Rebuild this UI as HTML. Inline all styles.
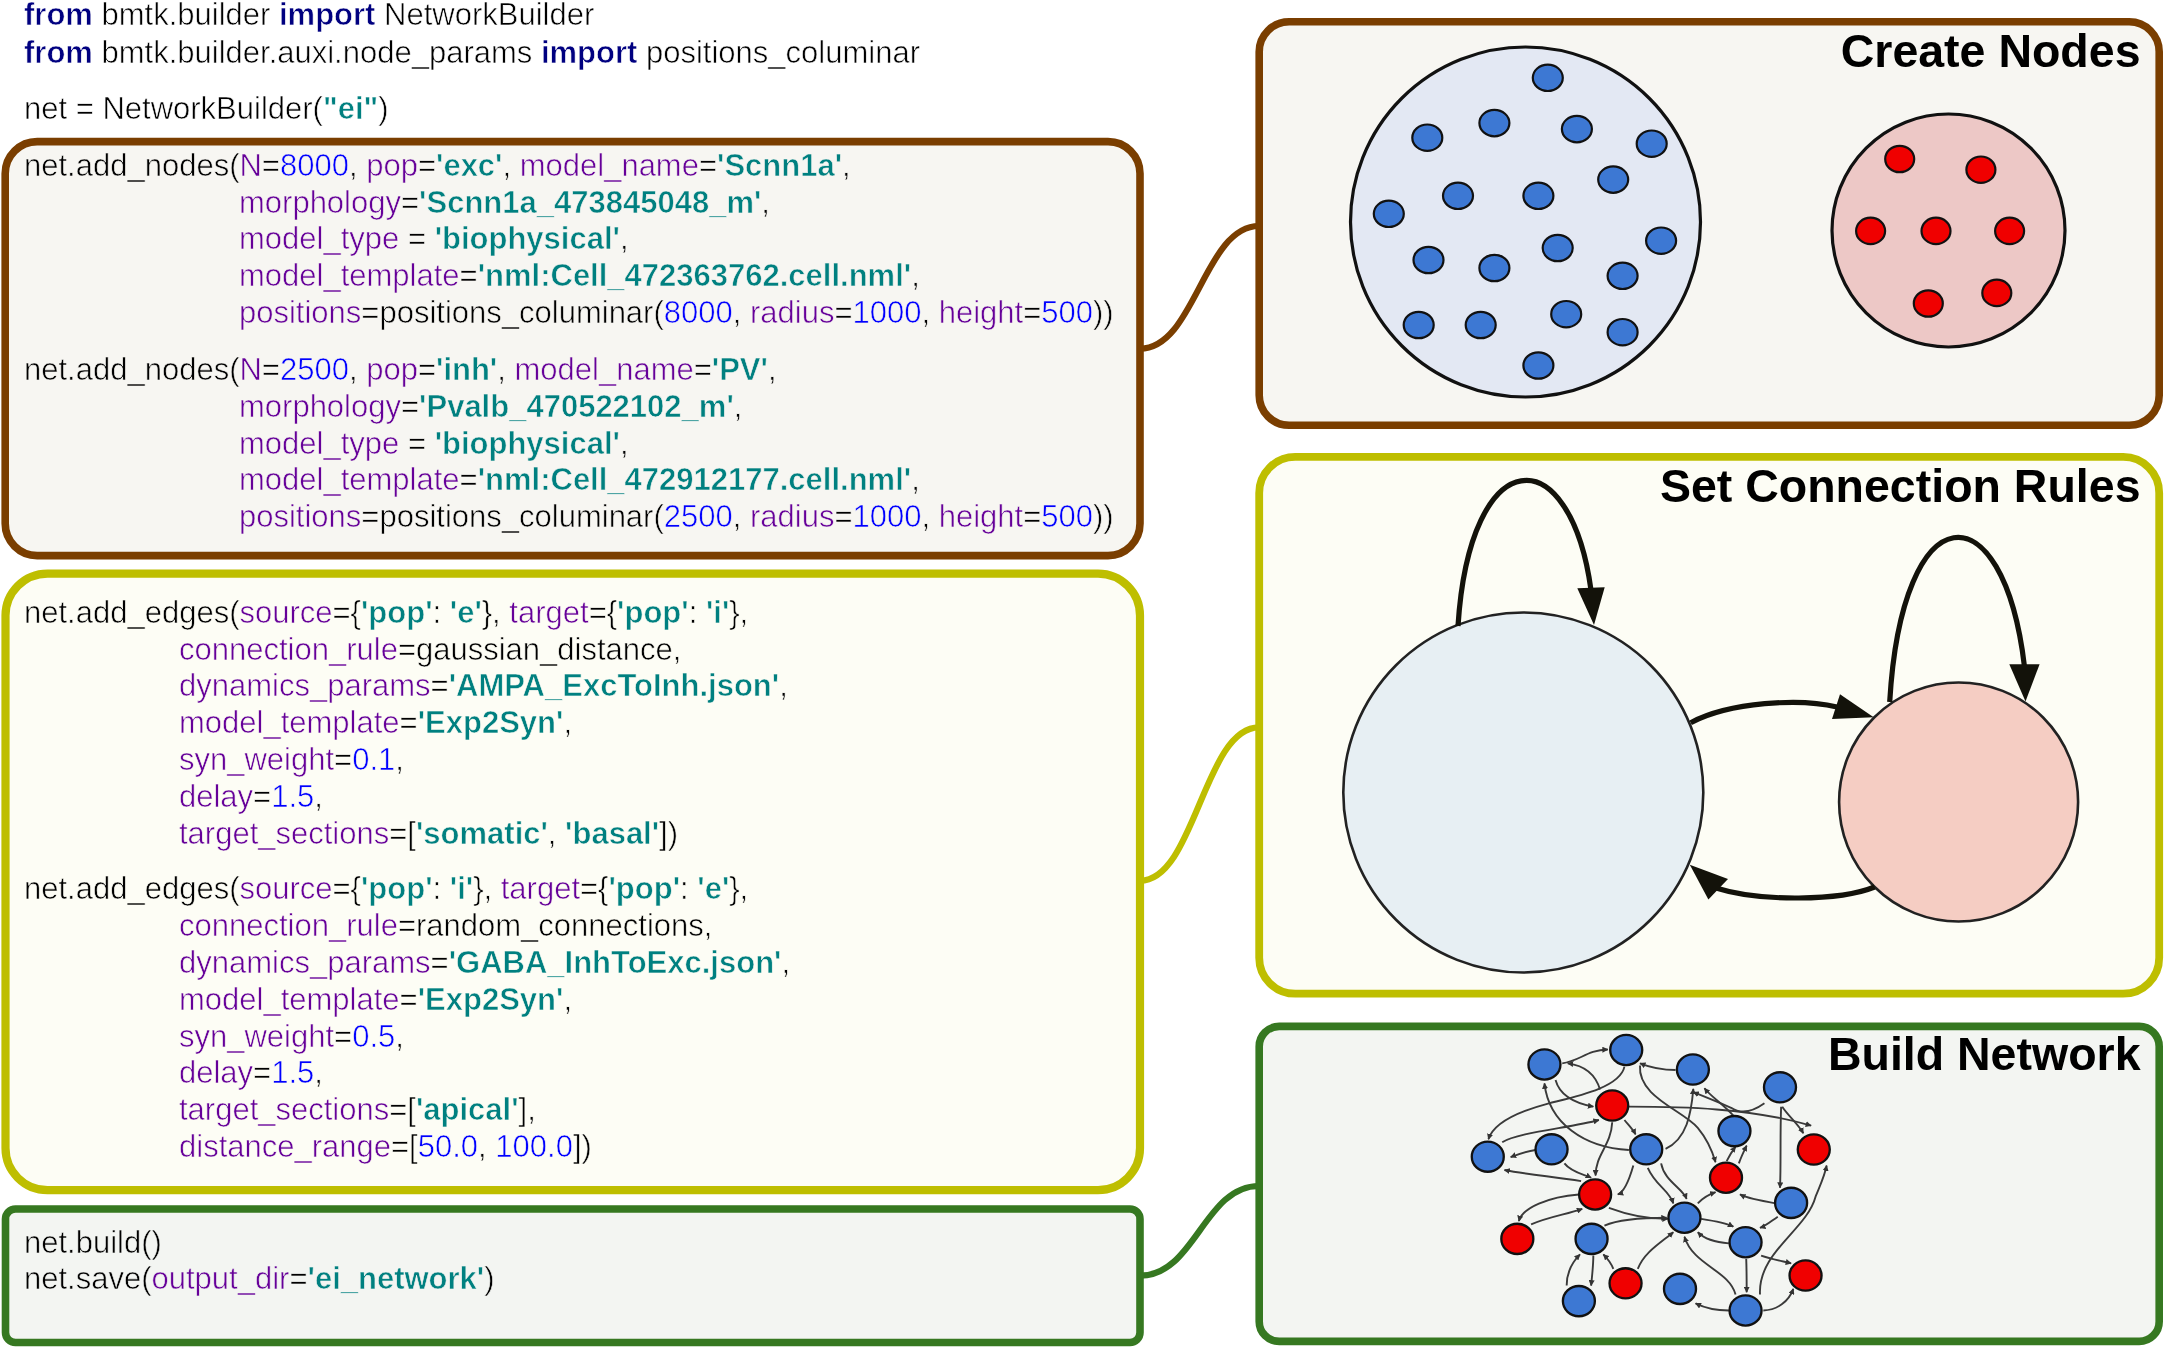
<!DOCTYPE html>
<html><head><meta charset="utf-8">
<style>
body{-webkit-font-smoothing:antialiased}
html,body{margin:0;padding:0;background:#fff;width:2166px;height:1350px;overflow:hidden}
svg{position:absolute;left:0;top:0}
.l{position:absolute;font-family:"Liberation Sans",sans-serif;font-size:31px;line-height:34.627px;white-space:pre;color:#000}
.k{color:#000080;font-weight:bold}
.a{color:#660099}
.n{color:#0000ff}
.s{color:#008080;font-weight:bold}
.t{position:absolute;font-family:"Liberation Sans",sans-serif;font-weight:bold;line-height:1.117;white-space:pre;color:#000}
</style></head><body>
<svg width="2166" height="1350" viewBox="0 0 2166 1350">
<defs><marker id="ah" viewBox="0 0 10 10" refX="9" refY="5" markerWidth="3.2" markerHeight="3.2" orient="auto" markerUnits="strokeWidth"><path d="M0,0 L10,5 L0,10 z" fill="#333"/></marker></defs>
<rect x="5.2" y="141.6" width="1134.8" height="414" rx="32" fill="#f7f6f2" stroke="#7a3e00" stroke-width="7.6"/>
<rect x="5.5" y="573.6" width="1134.5" height="616.5" rx="42" fill="#fdfdf5" stroke="#bebe00" stroke-width="8.2"/>
<rect x="5.5" y="1209" width="1134.5" height="133.5" rx="10" fill="#f3f5f2" stroke="#367821" stroke-width="7.6"/>
<rect x="1259.2" y="21.8" width="900" height="403.5" rx="30" fill="#f7f6f2" stroke="#7a3e00" stroke-width="7.6"/>
<rect x="1259.2" y="456.9" width="900" height="536.8" rx="36" fill="#fdfdf5" stroke="#bebe00" stroke-width="7.8"/>
<rect x="1259.2" y="1026.4" width="900" height="315" rx="20" fill="#f3f5f2" stroke="#367821" stroke-width="7.6"/>
<path d="M1140,348.7 C1195,348.7 1204,226 1259,226" fill="none" stroke="#7a3e00" stroke-width="6.2"/>
<path d="M1140,880.7 C1195,880.7 1204,727.4 1259,727.4" fill="none" stroke="#bebe00" stroke-width="6.2"/>
<path d="M1140,1275.7 C1195,1275.7 1204,1186 1259,1186" fill="none" stroke="#367821" stroke-width="6.2"/>
<circle cx="1525.5" cy="222" r="175" fill="#e3e8f3" stroke="#111" stroke-width="3.2"/>
<circle cx="1948.5" cy="230.5" r="116.5" fill="#edc8c6" stroke="#111" stroke-width="3.2"/>
<ellipse cx="1547.8" cy="77.8" rx="15" ry="13.2" fill="#3d78d3" stroke="#111" stroke-width="2.2"/>
<ellipse cx="1427.3" cy="137.7" rx="15" ry="13.2" fill="#3d78d3" stroke="#111" stroke-width="2.2"/>
<ellipse cx="1494.4" cy="123.1" rx="15" ry="13.2" fill="#3d78d3" stroke="#111" stroke-width="2.2"/>
<ellipse cx="1576.9" cy="129.1" rx="15" ry="13.2" fill="#3d78d3" stroke="#111" stroke-width="2.2"/>
<ellipse cx="1651.7" cy="143.7" rx="15" ry="13.2" fill="#3d78d3" stroke="#111" stroke-width="2.2"/>
<ellipse cx="1388.8" cy="213.8" rx="15" ry="13.2" fill="#3d78d3" stroke="#111" stroke-width="2.2"/>
<ellipse cx="1458" cy="195.8" rx="15" ry="13.2" fill="#3d78d3" stroke="#111" stroke-width="2.2"/>
<ellipse cx="1538.4" cy="195.8" rx="15" ry="13.2" fill="#3d78d3" stroke="#111" stroke-width="2.2"/>
<ellipse cx="1613.2" cy="179.6" rx="15" ry="13.2" fill="#3d78d3" stroke="#111" stroke-width="2.2"/>
<ellipse cx="1661.1" cy="240.7" rx="15" ry="13.2" fill="#3d78d3" stroke="#111" stroke-width="2.2"/>
<ellipse cx="1428.5" cy="260" rx="15" ry="13.2" fill="#3d78d3" stroke="#111" stroke-width="2.2"/>
<ellipse cx="1494.4" cy="268" rx="15" ry="13.2" fill="#3d78d3" stroke="#111" stroke-width="2.2"/>
<ellipse cx="1557.7" cy="248" rx="15" ry="13.2" fill="#3d78d3" stroke="#111" stroke-width="2.2"/>
<ellipse cx="1622.6" cy="275.8" rx="15" ry="13.2" fill="#3d78d3" stroke="#111" stroke-width="2.2"/>
<ellipse cx="1418.7" cy="325" rx="15" ry="13.2" fill="#3d78d3" stroke="#111" stroke-width="2.2"/>
<ellipse cx="1480.7" cy="325" rx="15" ry="13.2" fill="#3d78d3" stroke="#111" stroke-width="2.2"/>
<ellipse cx="1566.2" cy="314.2" rx="15" ry="13.2" fill="#3d78d3" stroke="#111" stroke-width="2.2"/>
<ellipse cx="1622.6" cy="332.2" rx="15" ry="13.2" fill="#3d78d3" stroke="#111" stroke-width="2.2"/>
<ellipse cx="1538.4" cy="365.5" rx="15" ry="13.2" fill="#3d78d3" stroke="#111" stroke-width="2.2"/>
<ellipse cx="1899.7" cy="159" rx="14.5" ry="13.2" fill="#f00000" stroke="#111" stroke-width="2.2"/>
<ellipse cx="1980.9" cy="169.7" rx="14.5" ry="13.2" fill="#f00000" stroke="#111" stroke-width="2.2"/>
<ellipse cx="1870.6" cy="230.9" rx="14.5" ry="13.2" fill="#f00000" stroke="#111" stroke-width="2.2"/>
<ellipse cx="1936" cy="230.9" rx="14.5" ry="13.2" fill="#f00000" stroke="#111" stroke-width="2.2"/>
<ellipse cx="2009.6" cy="230.9" rx="14.5" ry="13.2" fill="#f00000" stroke="#111" stroke-width="2.2"/>
<ellipse cx="1928.3" cy="303.5" rx="14.5" ry="13.2" fill="#f00000" stroke="#111" stroke-width="2.2"/>
<ellipse cx="1996.8" cy="292.9" rx="14.5" ry="13.2" fill="#f00000" stroke="#111" stroke-width="2.2"/>
<circle cx="1523.3" cy="792.5" r="180" fill="#e7eff3" stroke="#222" stroke-width="2.6"/>
<circle cx="1958.6" cy="802" r="119.5" fill="#f5cdc3" stroke="#222" stroke-width="2.6"/>
<path d="M1458,626 C1470,440 1570,437 1591,590" fill="none" stroke="#13120a" stroke-width="5.2"/>
<polygon points="1594,625 1577.3,588.2 1604.7,587.3" fill="#13120a"/>
<path d="M1889.7,702 C1902,491 2003,487 2024.4,666" fill="none" stroke="#13120a" stroke-width="5.2"/>
<polygon points="2025.5,701.5 2009.3,664.3 2039.6,664.3" fill="#13120a"/>
<path d="M1690.7,722.7 C1730,702 1800,698 1837,707" fill="none" stroke="#13120a" stroke-width="5.2"/>
<polygon points="1873.7,717.3 1840,694.2 1832,719.1" fill="#13120a"/>
<path d="M1874.6,887 C1840,901 1760,902 1716,888" fill="none" stroke="#13120a" stroke-width="5.2"/>
<polygon points="1689.8,864.8 1728,879 1708.4,899.5" fill="#13120a"/>
<g transform="translate(1460,1030) scale(0.22222)">
<path d="M460,150 C540,140 570,90 665,88" fill="none" stroke="#3a3a3a" stroke-width="8.5" marker-end="url(#ah)"/>
<path d="M630,268 C610,200 560,160 485,150" fill="none" stroke="#3a3a3a" stroke-width="8.5" marker-end="url(#ah)"/>
<path d="M430,225 C450,300 520,330 600,345" fill="none" stroke="#3a3a3a" stroke-width="8.5" marker-end="url(#ah)"/>
<path d="M740,165 C720,260 520,300 400,330 C250,370 150,420 128,492" fill="none" stroke="#3a3a3a" stroke-width="8.5" marker-end="url(#ah)"/>
<path d="M190,505 C260,460 500,440 625,405" fill="none" stroke="#3a3a3a" stroke-width="8.5" marker-end="url(#ah)"/>
<path d="M760,540 C560,530 400,420 380,240" fill="none" stroke="#3a3a3a" stroke-width="8.5" marker-end="url(#ah)"/>
<path d="M340,540 C300,545 260,560 228,572" fill="none" stroke="#3a3a3a" stroke-width="8.5" marker-end="url(#ah)"/>
<path d="M545,680 C420,660 300,650 200,630" fill="none" stroke="#3a3a3a" stroke-width="8.5" marker-end="url(#ah)"/>
<path d="M470,600 C500,640 560,650 590,665" fill="none" stroke="#3a3a3a" stroke-width="8.5" marker-end="url(#ah)"/>
<path d="M685,415 C680,520 610,560 610,655" fill="none" stroke="#3a3a3a" stroke-width="8.5" marker-end="url(#ah)"/>
<path d="M740,405 C760,430 780,450 790,470" fill="none" stroke="#3a3a3a" stroke-width="8.5" marker-end="url(#ah)"/>
<path d="M780,610 C760,680 740,730 710,740" fill="none" stroke="#3a3a3a" stroke-width="8.5" marker-end="url(#ah)"/>
<path d="M845,620 C880,700 940,720 960,780" fill="none" stroke="#3a3a3a" stroke-width="8.5" marker-end="url(#ah)"/>
<path d="M905,600 C920,680 1000,710 1020,760" fill="none" stroke="#3a3a3a" stroke-width="8.5" marker-end="url(#ah)"/>
<path d="M925,535 C1020,490 1040,380 1050,265" fill="none" stroke="#3a3a3a" stroke-width="8.5" marker-end="url(#ah)"/>
<path d="M810,160 C800,300 1000,360 1070,440 C1120,500 1140,560 1150,595" fill="none" stroke="#3a3a3a" stroke-width="8.5" marker-end="url(#ah)"/>
<path d="M970,180 C900,180 860,170 810,150" fill="none" stroke="#3a3a3a" stroke-width="8.5" marker-end="url(#ah)"/>
<path d="M760,345 C1000,345 1300,350 1580,430" fill="none" stroke="#3a3a3a" stroke-width="8.5" marker-end="url(#ah)"/>
<path d="M1230,385 C1180,330 1130,300 1100,262" fill="none" stroke="#3a3a3a" stroke-width="8.5" marker-end="url(#ah)"/>
<path d="M1370,330 C1300,380 1250,370 1220,350 C1150,320 1100,300 1050,280" fill="none" stroke="#3a3a3a" stroke-width="8.5" marker-end="url(#ah)"/>
<path d="M1450,345 C1480,390 1520,420 1545,465" fill="none" stroke="#3a3a3a" stroke-width="8.5" marker-end="url(#ah)"/>
<path d="M1445,345 C1440,480 1445,600 1440,710" fill="none" stroke="#3a3a3a" stroke-width="8.5" marker-end="url(#ah)"/>
<path d="M1200,590 C1210,570 1225,545 1240,525" fill="none" stroke="#3a3a3a" stroke-width="8.5" marker-end="url(#ah)"/>
<path d="M1255,600 C1265,570 1280,540 1290,520" fill="none" stroke="#3a3a3a" stroke-width="8.5" marker-end="url(#ah)"/>
<path d="M1070,780 C1090,760 1120,740 1150,730" fill="none" stroke="#3a3a3a" stroke-width="8.5" marker-end="url(#ah)"/>
<path d="M1420,780 C1360,770 1300,760 1260,740" fill="none" stroke="#3a3a3a" stroke-width="8.5" marker-end="url(#ah)"/>
<path d="M670,800 C750,830 850,850 935,850" fill="none" stroke="#3a3a3a" stroke-width="8.5" marker-end="url(#ah)"/>
<path d="M535,740 C400,750 280,800 265,860" fill="none" stroke="#3a3a3a" stroke-width="8.5" marker-end="url(#ah)"/>
<path d="M320,875 C400,840 480,830 550,805" fill="none" stroke="#3a3a3a" stroke-width="8.5" marker-end="url(#ah)"/>
<path d="M650,880 C720,850 830,845 930,845" fill="none" stroke="#3a3a3a" stroke-width="8.5" marker-end="url(#ah)"/>
<path d="M1085,850 C1150,860 1200,870 1230,885" fill="none" stroke="#3a3a3a" stroke-width="8.5" marker-end="url(#ah)"/>
<path d="M1210,960 C1140,955 1100,940 1070,910" fill="none" stroke="#3a3a3a" stroke-width="8.5" marker-end="url(#ah)"/>
<path d="M1430,840 C1400,860 1380,880 1350,890" fill="none" stroke="#3a3a3a" stroke-width="8.5" marker-end="url(#ah)"/>
<path d="M1355,1015 C1400,1030 1450,1040 1490,1050" fill="none" stroke="#3a3a3a" stroke-width="8.5" marker-end="url(#ah)"/>
<path d="M1288,1030 C1290,1080 1290,1130 1290,1180" fill="none" stroke="#3a3a3a" stroke-width="8.5" marker-end="url(#ah)"/>
<path d="M1240,1190 C1210,1080 1050,1060 1010,930" fill="none" stroke="#3a3a3a" stroke-width="8.5" marker-end="url(#ah)"/>
<path d="M1350,1190 C1340,1000 1560,900 1600,750 C1620,700 1640,660 1650,610" fill="none" stroke="#3a3a3a" stroke-width="8.5" marker-end="url(#ah)"/>
<path d="M1210,1262 C1140,1262 1100,1250 1060,1230" fill="none" stroke="#3a3a3a" stroke-width="8.5" marker-end="url(#ah)"/>
<path d="M1365,1262 C1430,1260 1480,1220 1500,1165" fill="none" stroke="#3a3a3a" stroke-width="8.5" marker-end="url(#ah)"/>
<path d="M800,1075 C830,1000 900,960 960,910" fill="none" stroke="#3a3a3a" stroke-width="8.5" marker-end="url(#ah)"/>
<path d="M690,1075 C680,1050 665,1030 645,1010" fill="none" stroke="#3a3a3a" stroke-width="8.5" marker-end="url(#ah)"/>
<path d="M480,1150 C480,1090 500,1050 540,1010" fill="none" stroke="#3a3a3a" stroke-width="8.5" marker-end="url(#ah)"/>
<path d="M600,1015 C600,1060 595,1100 590,1150" fill="none" stroke="#3a3a3a" stroke-width="8.5" marker-end="url(#ah)"/>
<ellipse cx="380" cy="155" rx="72" ry="68" fill="#3d78d3" stroke="#111" stroke-width="10.5"/>
<ellipse cx="748" cy="90" rx="72" ry="68" fill="#3d78d3" stroke="#111" stroke-width="10.5"/>
<ellipse cx="1048" cy="178" rx="72" ry="68" fill="#3d78d3" stroke="#111" stroke-width="10.5"/>
<ellipse cx="1440" cy="258" rx="72" ry="68" fill="#3d78d3" stroke="#111" stroke-width="10.5"/>
<ellipse cx="1235" cy="455" rx="72" ry="68" fill="#3d78d3" stroke="#111" stroke-width="10.5"/>
<ellipse cx="125" cy="570" rx="72" ry="68" fill="#3d78d3" stroke="#111" stroke-width="10.5"/>
<ellipse cx="412" cy="537" rx="72" ry="68" fill="#3d78d3" stroke="#111" stroke-width="10.5"/>
<ellipse cx="838" cy="537" rx="72" ry="68" fill="#3d78d3" stroke="#111" stroke-width="10.5"/>
<ellipse cx="1490" cy="778" rx="72" ry="68" fill="#3d78d3" stroke="#111" stroke-width="10.5"/>
<ellipse cx="1010" cy="845" rx="72" ry="68" fill="#3d78d3" stroke="#111" stroke-width="10.5"/>
<ellipse cx="592" cy="940" rx="72" ry="68" fill="#3d78d3" stroke="#111" stroke-width="10.5"/>
<ellipse cx="1285" cy="955" rx="72" ry="68" fill="#3d78d3" stroke="#111" stroke-width="10.5"/>
<ellipse cx="535" cy="1220" rx="72" ry="68" fill="#3d78d3" stroke="#111" stroke-width="10.5"/>
<ellipse cx="990" cy="1165" rx="72" ry="68" fill="#3d78d3" stroke="#111" stroke-width="10.5"/>
<ellipse cx="1285" cy="1262" rx="72" ry="68" fill="#3d78d3" stroke="#111" stroke-width="10.5"/>
<ellipse cx="685" cy="340" rx="72" ry="68" fill="#f00000" stroke="#111" stroke-width="10.5"/>
<ellipse cx="1592" cy="538" rx="72" ry="68" fill="#f00000" stroke="#111" stroke-width="10.5"/>
<ellipse cx="1197" cy="665" rx="72" ry="68" fill="#f00000" stroke="#111" stroke-width="10.5"/>
<ellipse cx="608" cy="740" rx="72" ry="68" fill="#f00000" stroke="#111" stroke-width="10.5"/>
<ellipse cx="258" cy="940" rx="72" ry="68" fill="#f00000" stroke="#111" stroke-width="10.5"/>
<ellipse cx="745" cy="1140" rx="72" ry="68" fill="#f00000" stroke="#111" stroke-width="10.5"/>
<ellipse cx="1555" cy="1105" rx="72" ry="68" fill="#f00000" stroke="#111" stroke-width="10.5"/>
</g>
</svg>
<div style="position:absolute;left:0;top:0;width:2166px;height:1350px;will-change:transform">
<div class="l" style="left:24px;top:-1.66px;-webkit-text-stroke:0.6px #ffffff"><b class="k">from</b> bmtk.builder <b class="k">import</b> NetworkBuilder</div>
<div class="l" style="left:24px;top:35.65px;-webkit-text-stroke:0.6px #ffffff"><b class="k">from</b> bmtk.builder.auxi.node_params <b class="k">import</b> positions_columinar</div>
<div class="l" style="left:24px;top:92.14px;-webkit-text-stroke:0.6px #ffffff">net = NetworkBuilder(<b class="s">"ei"</b>)</div>
<div class="l" style="left:24px;top:148.84px;-webkit-text-stroke:0.6px #f7f6f2">net.add_nodes(<span class="a">N</span>=<span class="n">8000</span>, <span class="a">pop</span>=<b class="s">'exc'</b>, <span class="a">model_name</span>=<b class="s">'Scnn1a'</b>,</div>
<div class="l" style="left:239px;top:185.64px;-webkit-text-stroke:0.6px #f7f6f2"><span class="a">morphology</span>=<b class="s">'Scnn1a_473845048_m'</b>,</div>
<div class="l" style="left:239px;top:222.44px;-webkit-text-stroke:0.6px #f7f6f2"><span class="a">model_type</span> = <b class="s">'biophysical'</b>,</div>
<div class="l" style="left:239px;top:259.24px;-webkit-text-stroke:0.6px #f7f6f2"><span class="a">model_template</span>=<b class="s">'nml:Cell_472363762.cell.nml'</b>,</div>
<div class="l" style="left:239px;top:296.04px;-webkit-text-stroke:0.6px #f7f6f2"><span class="a">positions</span>=positions_columinar(<span class="n">8000</span>, <span class="a">radius</span>=<span class="n">1000</span>, <span class="a">height</span>=<span class="n">500</span>))</div>
<div class="l" style="left:24px;top:352.94px;-webkit-text-stroke:0.6px #f7f6f2">net.add_nodes(<span class="a">N</span>=<span class="n">2500</span>, <span class="a">pop</span>=<b class="s">'inh'</b>, <span class="a">model_name</span>=<b class="s">'PV'</b>,</div>
<div class="l" style="left:239px;top:389.75px;-webkit-text-stroke:0.6px #f7f6f2"><span class="a">morphology</span>=<b class="s">'Pvalb_470522102_m'</b>,</div>
<div class="l" style="left:239px;top:426.54px;-webkit-text-stroke:0.6px #f7f6f2"><span class="a">model_type</span> = <b class="s">'biophysical'</b>,</div>
<div class="l" style="left:239px;top:463.34px;-webkit-text-stroke:0.6px #f7f6f2"><span class="a">model_template</span>=<b class="s">'nml:Cell_472912177.cell.nml'</b>,</div>
<div class="l" style="left:239px;top:500.14px;-webkit-text-stroke:0.6px #f7f6f2"><span class="a">positions</span>=positions_columinar(<span class="n">2500</span>, <span class="a">radius</span>=<span class="n">1000</span>, <span class="a">height</span>=<span class="n">500</span>))</div>
<div class="l" style="left:24px;top:595.75px;-webkit-text-stroke:0.6px #fdfdf5">net.add_edges(<span class="a">source</span>={<b class="s">'pop'</b>: <b class="s">'e'</b>}, <span class="a">target</span>={<b class="s">'pop'</b>: <b class="s">'i'</b>},</div>
<div class="l" style="left:179px;top:632.55px;-webkit-text-stroke:0.6px #fdfdf5"><span class="a">connection_rule</span>=gaussian_distance,</div>
<div class="l" style="left:179px;top:669.35px;-webkit-text-stroke:0.6px #fdfdf5"><span class="a">dynamics_params</span>=<b class="s">'AMPA_ExcToInh.json'</b>,</div>
<div class="l" style="left:179px;top:706.15px;-webkit-text-stroke:0.6px #fdfdf5"><span class="a">model_template</span>=<b class="s">'Exp2Syn'</b>,</div>
<div class="l" style="left:179px;top:742.95px;-webkit-text-stroke:0.6px #fdfdf5"><span class="a">syn_weight</span>=<span class="n">0.1</span>,</div>
<div class="l" style="left:179px;top:779.75px;-webkit-text-stroke:0.6px #fdfdf5"><span class="a">delay</span>=<span class="n">1.5</span>,</div>
<div class="l" style="left:179px;top:816.55px;-webkit-text-stroke:0.6px #fdfdf5"><span class="a">target_sections</span>=[<b class="s">'somatic'</b>, <b class="s">'basal'</b>])</div>
<div class="l" style="left:24px;top:872.35px;-webkit-text-stroke:0.6px #fdfdf5">net.add_edges(<span class="a">source</span>={<b class="s">'pop'</b>: <b class="s">'i'</b>}, <span class="a">target</span>={<b class="s">'pop'</b>: <b class="s">'e'</b>},</div>
<div class="l" style="left:179px;top:909.15px;-webkit-text-stroke:0.6px #fdfdf5"><span class="a">connection_rule</span>=random_connections,</div>
<div class="l" style="left:179px;top:945.95px;-webkit-text-stroke:0.6px #fdfdf5"><span class="a">dynamics_params</span>=<b class="s">'GABA_InhToExc.json'</b>,</div>
<div class="l" style="left:179px;top:982.75px;-webkit-text-stroke:0.6px #fdfdf5"><span class="a">model_template</span>=<b class="s">'Exp2Syn'</b>,</div>
<div class="l" style="left:179px;top:1019.55px;-webkit-text-stroke:0.6px #fdfdf5"><span class="a">syn_weight</span>=<span class="n">0.5</span>,</div>
<div class="l" style="left:179px;top:1056.35px;-webkit-text-stroke:0.6px #fdfdf5"><span class="a">delay</span>=<span class="n">1.5</span>,</div>
<div class="l" style="left:179px;top:1093.14px;-webkit-text-stroke:0.6px #fdfdf5"><span class="a">target_sections</span>=[<b class="s">'apical'</b>],</div>
<div class="l" style="left:179px;top:1129.94px;-webkit-text-stroke:0.6px #fdfdf5"><span class="a">distance_range</span>=[<span class="n">50.0</span>, <span class="n">100.0</span>])</div>
<div class="l" style="left:24px;top:1225.64px;-webkit-text-stroke:0.6px #f3f5f2">net.build()</div>
<div class="l" style="left:24px;top:1262.44px;-webkit-text-stroke:0.6px #f3f5f2">net.save(<span class="a">output_dir</span>=<b class="s">'ei_network'</b>)</div>
<div class="t" style="right:25.5px;top:25.62px;font-size:46.5px">Create Nodes</div>
<div class="t" style="right:25.5px;top:460.92px;font-size:46.5px">Set Connection Rules</div>
<div class="t" style="right:25.5px;top:1029.22px;font-size:46.5px">Build Network</div>
</div>
</body></html>
